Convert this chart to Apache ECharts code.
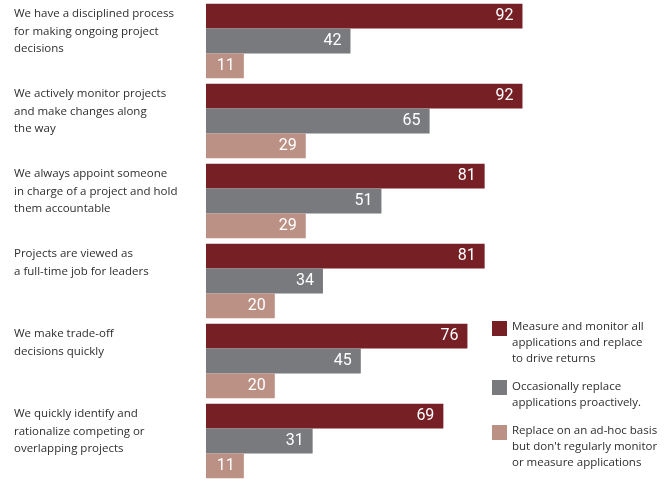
<!DOCTYPE html>
<html><head><meta charset="utf-8">
<script src="https://cdn.jsdelivr.net/npm/echarts@6/dist/echarts.min.js"></script>
<style>html,body{margin:0;padding:0;background:#fff}#c{width:672px;height:485px}</style>
</head><body><div id="c"></div>
<script>
var categories = [
  "We have a disciplined process\nfor making ongoing project\ndecisions",
  "We actively monitor projects\nand make changes along\nthe way",
  "We always appoint someone\nin charge of a project and hold\nthem accountable",
  "Projects are viewed as\na full-time job for leaders",
  "We make trade-off\ndecisions quickly",
  "We quickly identify and\nrationalize competing or\noverlapping projects"
];
var seriesNames = [
  "Measure and monitor all\napplications and replace\nto drive returns",
  "Occasionally replace\napplications proactively.",
  "Replace on an ad-hoc basis\nbut don't regularly monitor\nor measure applications"
];
var measureAll = [92, 92, 81, 81, 76, 69];
var occasionally = [42, 65, 51, 34, 45, 31];
var adHoc = [11, 29, 29, 20, 20, 11];

var colors = ["#762026", "#797a7e", "#bc9185"];
var FONT = "Open Sans";
var valueSets = [measureAll, occasionally, adHoc];

var series = valueSets.map(function (vals, i) {
  return {
    type: "bar", name: seriesNames[i], data: vals, yAxisIndex: 0,
    barGap: "0%", barCategoryGap: "7%",
    itemStyle: { color: colors[i] },
    label: { show: true, position: "insideRight", distance: 9, color: "#fff",
      fontFamily: "Roboto", fontSize: 16 }
  };
});

var legendTops = [319, 379, 423];
var legendLines = [3, 2, 3];
var legendOffsets = [2, 1, 2];
var LH = 16;
var SQ = 15;
var legends = seriesNames.map(function (n, i) {
  var H = legendLines[i] * LH;
  var o = legendOffsets[i];
  return {
    left: 492, top: legendTops[i], orient: "vertical", padding: 0,
    itemWidth: SQ, itemHeight: H, itemGap: 0, selectedMode: false, symbolKeepAspect: false,
    icon: "path://M0," + o + "h" + SQ + "v" + SQ + "h-" + SQ + "zM0,0h0.001M0," + H + "h0.001",
    data: [n],
    textStyle: { fontFamily: FONT, fontSize: 11.5, fontWeight: 500, color: "#2e2e2e", lineHeight: LH, padding: 0 }
  };
});

var chart = echarts.init(document.getElementById("c"), null, { renderer: "canvas" });
chart.setOption({
  animation: false,
  grid: { left: 206, right: 122, top: 1, bottom: 0, containLabel: false },
  xAxis: { type: "value", min: 0, max: 100, show: false },
  yAxis: [
    { type: "category", data: categories, inverse: true, show: false },
    { type: "category", data: categories.concat([""]), inverse: true, boundaryGap: false,
      position: "left", axisLine: { show: false }, axisTick: { show: false }, splitLine: { show: false },
      axisLabel: { interval: 0, align: "left", verticalAlign: "top", margin: 192, padding: [4, 0, 0, 0],
        lineHeight: 17.5, fontFamily: FONT, fontSize: 11.5, fontWeight: 500, color: "#2e2e2e" } }
  ],
  legend: legends,
  series: series
});
</script></body></html>
